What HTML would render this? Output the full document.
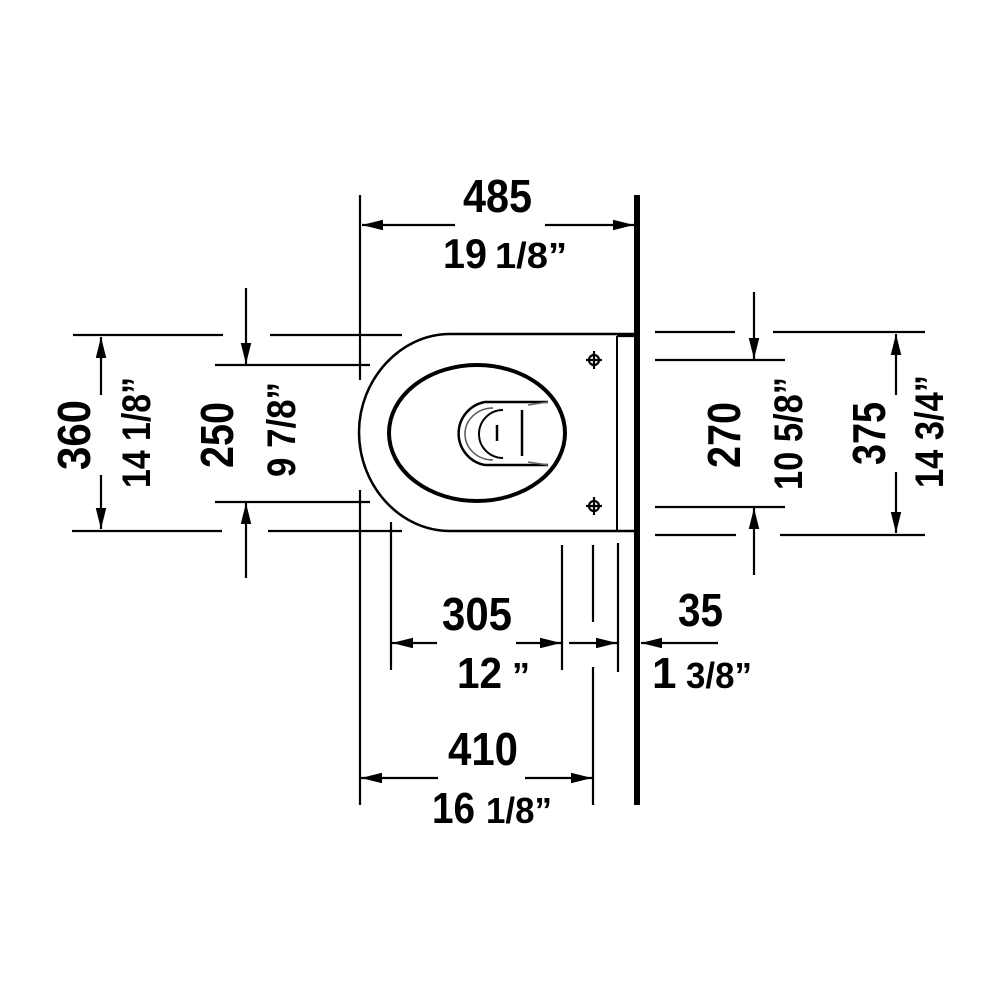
<!DOCTYPE html>
<html><head><meta charset="utf-8"><style>html,body{margin:0;padding:0;background:#fff}svg{display:block}</style></head>
<body>
<svg width="1000" height="1000" viewBox="0 0 1000 1000" xmlns="http://www.w3.org/2000/svg">
<defs>
<marker id="ah" viewBox="0 0 20 10" refX="20" refY="5" markerWidth="21" markerHeight="11" markerUnits="userSpaceOnUse" orient="auto-start-reverse"><path d="M0,0 L20,5 L0,10 z" fill="#000"/></marker>
</defs>
<rect width="1000" height="1000" fill="#fff"/>
<g stroke="#000" stroke-width="2.2" fill="none">
<line x1="637" y1="195" x2="637" y2="805" stroke-width="6"/>
<line x1="360" y1="195" x2="360" y2="380"/>
<line x1="455" y1="225" x2="362" y2="225" marker-end="url(#ah)"/>
<line x1="545" y1="225" x2="634" y2="225" marker-end="url(#ah)"/>
<path d="M635,334 L450,334 C400,334 359,380 359,432 C359,486 400,531 450,531 L635,531" stroke-width="2.5"/>
<line x1="617" y1="336" x2="617" y2="530" stroke-width="2"/>
<line x1="617" y1="336" x2="634" y2="336"/>
<ellipse cx="477" cy="433" rx="88" ry="68" stroke-width="4"/>
<path d="M548,402 L485,402 A32,32 0 0 0 485,465 L548,465" stroke-width="2.5"/>
<path d="M493,408 A28,26 0 0 0 493,460" stroke="#555" stroke-width="1.5"/>
<path d="M503,410 A24,24 0 0 0 503,458" stroke-width="2"/>
<line x1="497" y1="425" x2="497" y2="441" stroke-width="2.5"/>
<line x1="522" y1="410" x2="522" y2="456" stroke-width="2.5"/>
<line x1="528" y1="405" x2="548" y2="402" stroke="#666" stroke-width="1.5"/>
<line x1="528" y1="462" x2="548" y2="465" stroke="#666" stroke-width="1.5"/>
<circle cx="594" cy="360" r="5"/><line x1="586" y1="360" x2="602" y2="360"/><line x1="594" y1="351" x2="594" y2="369"/>
<circle cx="594" cy="506" r="5"/><line x1="586" y1="506" x2="602" y2="506"/><line x1="594" y1="497" x2="594" y2="515"/>
<line x1="73" y1="335" x2="223" y2="335"/><line x1="270" y1="335" x2="402" y2="335"/>
<line x1="72" y1="531" x2="222" y2="531"/><line x1="268" y1="531" x2="402" y2="531"/>
<line x1="215" y1="365" x2="370" y2="365"/>
<line x1="215" y1="502" x2="370" y2="502"/>
<line x1="360" y1="490" x2="360" y2="805"/>
<line x1="101" y1="395" x2="101" y2="337" marker-end="url(#ah)"/>
<line x1="101" y1="475" x2="101" y2="529" marker-end="url(#ah)"/>
<line x1="246" y1="288" x2="246" y2="364" marker-end="url(#ah)"/>
<line x1="246" y1="578" x2="246" y2="503" marker-end="url(#ah)"/>
<line x1="655" y1="332" x2="735" y2="332"/><line x1="773" y1="332" x2="925" y2="332"/>
<line x1="655" y1="360" x2="785" y2="360"/>
<line x1="655" y1="507" x2="785" y2="507"/>
<line x1="655" y1="535" x2="736" y2="535"/><line x1="780" y1="535" x2="925" y2="535"/>
<line x1="754" y1="292" x2="754" y2="359" marker-end="url(#ah)"/>
<line x1="754" y1="575" x2="754" y2="508" marker-end="url(#ah)"/>
<line x1="896" y1="395" x2="896" y2="334" marker-end="url(#ah)"/>
<line x1="896" y1="472" x2="896" y2="533" marker-end="url(#ah)"/>
<line x1="391" y1="522" x2="391" y2="670"/>
<line x1="562" y1="545" x2="562" y2="670"/>
<line x1="593" y1="545" x2="593" y2="622"/>
<line x1="593" y1="667" x2="593" y2="805"/>
<line x1="618" y1="543" x2="618" y2="672"/>
<line x1="437" y1="643" x2="392" y2="643" marker-end="url(#ah)"/>
<line x1="516" y1="643" x2="561" y2="643" marker-end="url(#ah)"/>
<line x1="569" y1="643" x2="617" y2="643" marker-end="url(#ah)"/>
<line x1="718" y1="643" x2="641" y2="643" marker-end="url(#ah)"/>
<line x1="438" y1="778" x2="361" y2="778" marker-end="url(#ah)"/>
<line x1="525" y1="778" x2="592" y2="778" marker-end="url(#ah)"/>
</g>
<g font-family="Liberation Sans, Arial, sans-serif" font-weight="bold" fill="#000">
<text x="463" y="212" font-size="46" textLength="69" lengthAdjust="spacingAndGlyphs">485</text>
<text x="443" y="268" font-size="42" textLength="44" lengthAdjust="spacingAndGlyphs">19</text>
<text x="495" y="268" font-size="36" textLength="72" lengthAdjust="spacingAndGlyphs">1/8”</text>
<text x="442" y="630" font-size="46" textLength="70" lengthAdjust="spacingAndGlyphs">305</text>
<text x="457" y="688" font-size="44" textLength="45" lengthAdjust="spacingAndGlyphs">12</text>
<text x="512" y="688" font-size="36">”</text>
<text x="678" y="626" font-size="46" textLength="45" lengthAdjust="spacingAndGlyphs">35</text>
<text x="652" y="688" font-size="44">1</text>
<text x="686" y="688" font-size="36" textLength="66" lengthAdjust="spacingAndGlyphs">3/8”</text>
<text x="448" y="765" font-size="46" textLength="70" lengthAdjust="spacingAndGlyphs">410</text>
<text x="432" y="823" font-size="44" textLength="43" lengthAdjust="spacingAndGlyphs">16</text>
<text x="486" y="823" font-size="36" textLength="66" lengthAdjust="spacingAndGlyphs">1/8”</text>
<text transform="translate(90,470) rotate(-90)" font-size="46" textLength="70" lengthAdjust="spacingAndGlyphs">360</text>
<text transform="translate(150,488) rotate(-90)" font-size="40" textLength="111" lengthAdjust="spacingAndGlyphs">14 1/8”</text>
<text transform="translate(233,468) rotate(-90)" font-size="46" textLength="66" lengthAdjust="spacingAndGlyphs">250</text>
<text transform="translate(295,477) rotate(-90)" font-size="40" textLength="95" lengthAdjust="spacingAndGlyphs">9 7/8”</text>
<text transform="translate(740,468) rotate(-90)" font-size="46" textLength="66" lengthAdjust="spacingAndGlyphs">270</text>
<text transform="translate(802,490) rotate(-90)" font-size="40" textLength="113" lengthAdjust="spacingAndGlyphs">10 5/8”</text>
<text transform="translate(885,465) rotate(-90)" font-size="46" textLength="63" lengthAdjust="spacingAndGlyphs">375</text>
<text transform="translate(943,488) rotate(-90)" font-size="40" textLength="113" lengthAdjust="spacingAndGlyphs">14 3/4”</text>
</g>
</svg>
</body></html>
